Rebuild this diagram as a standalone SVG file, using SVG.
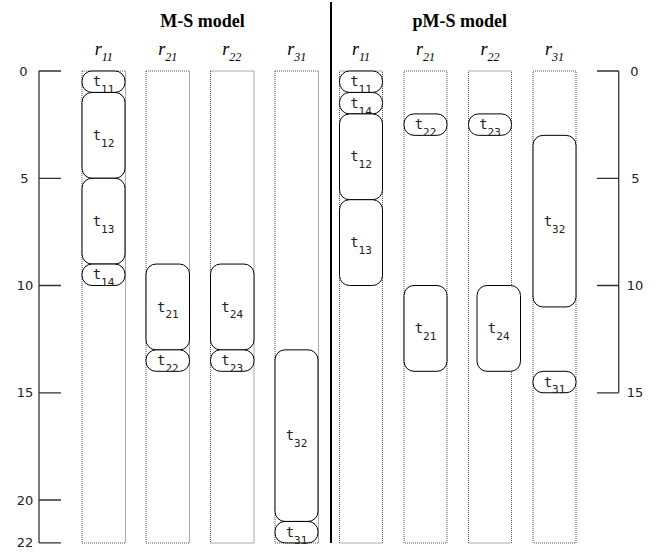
<svg xmlns="http://www.w3.org/2000/svg" width="671" height="554" viewBox="0 0 671 554">
<style>
.title{font-family:"Liberation Serif",serif;font-weight:bold;font-size:18px;text-anchor:middle;fill:#000}
.hdr{font-family:"Liberation Serif",serif;font-style:italic;font-size:18px;text-anchor:middle;fill:#000}
.hdr tspan{font-size:12px}
.col{fill:none;stroke:#555;stroke-width:1;stroke-dasharray:1,1}
.task{fill:#fff;stroke:#000;stroke-width:1}
.lbl{font-family:"DejaVu Sans Mono",monospace;font-size:14px;text-anchor:middle;fill:#222}
.lbl tspan{font-size:11px}
.ax{stroke:#333;stroke-width:1.3;fill:none}
.axl{font-family:"DejaVu Sans",sans-serif;font-size:13px;fill:#222;text-anchor:middle}
.div{stroke:#000;stroke-width:2}
</style>
<text class="title" x="202.5" y="27">M-S model</text>
<text class="title" x="459.7" y="27">pM-S model</text>
<line class="div" x1="331" y1="2" x2="331" y2="543"/>
<g id="axis-left">
<path class="ax" d="M39,71V543M39,71H61M39,178.3H61M39,285.5H61M39,392.8H61M39,500H61M39,542.9H61"/>
<text class="axl" x="23.5" y="75.5">0</text>
<text class="axl" x="24.5" y="182.8">5</text>
<text class="axl" x="25" y="290">10</text>
<text class="axl" x="25" y="397.3">15</text>
<text class="axl" x="25" y="504.5">20</text>
<text class="axl" x="25" y="547.4">22</text>
</g>
<g id="axis-right">
<path class="ax" d="M618.7,71V392.8M597,71H618.7M597,178.3H618.7M597,285.5H618.7M597,392.8H618.7"/>
<text class="axl" x="634.5" y="75.5">0</text>
<text class="axl" x="635.5" y="182.8">5</text>
<text class="axl" x="635" y="290">10</text>
<text class="axl" x="635" y="397.3">15</text>
</g>
<g id="ms-columns">
<text class="hdr" x="103.7" y="55">r<tspan dy="6">11</tspan></text>
<text class="hdr" x="167.8" y="55">r<tspan dy="6">21</tspan></text>
<text class="hdr" x="231.8" y="55">r<tspan dy="6">22</tspan></text>
<text class="hdr" x="296.7" y="55">r<tspan dy="6">31</tspan></text>
<rect class="col" x="82" y="71" width="43.5" height="472"/>
<rect class="col" x="146" y="71" width="43.5" height="472"/>
<rect class="col" x="210.5" y="71" width="43.5" height="472"/>
<rect class="col" x="275" y="71" width="43.5" height="472"/>
</g>
<g id="pms-columns">
<text class="hdr" x="361" y="55">r<tspan dy="6">11</tspan></text>
<text class="hdr" x="425.5" y="55">r<tspan dy="6">21</tspan></text>
<text class="hdr" x="490" y="55">r<tspan dy="6">22</tspan></text>
<text class="hdr" x="554.5" y="55">r<tspan dy="6">31</tspan></text>
<rect class="col" x="339.5" y="71" width="43" height="472"/>
<rect class="col" x="404" y="71" width="43" height="472"/>
<rect class="col" x="468.5" y="71" width="43" height="472"/>
<rect class="col" x="533" y="71" width="43" height="472"/>
</g>
<g id="ms-t11"><rect class="task" x="82" y="71" width="43" height="21.45" rx="10"/><text class="lbl" x="103.5" y="86.3">t<tspan dy="6.7">11</tspan></text></g>
<g id="ms-t12"><rect class="task" x="82" y="92.45" width="43" height="85.8" rx="10"/><text class="lbl" x="103.5" y="140">t<tspan dy="6.7">12</tspan></text></g>
<g id="ms-t13"><rect class="task" x="82" y="178.25" width="43" height="85.8" rx="10"/><text class="lbl" x="103.5" y="225.8">t<tspan dy="6.7">13</tspan></text></g>
<g id="ms-t14"><rect class="task" x="82" y="264.05" width="43" height="21.45" rx="10"/><text class="lbl" x="103.5" y="279.4">t<tspan dy="6.7">14</tspan></text></g>
<g id="ms-t21"><rect class="task" x="146" y="264.05" width="43.5" height="85.8" rx="10"/><text class="lbl" x="167.8" y="311.6">t<tspan dy="6.7">21</tspan></text></g>
<g id="ms-t22"><rect class="task" x="146" y="349.85" width="43.5" height="21.45" rx="10"/><text class="lbl" x="167.8" y="365.2">t<tspan dy="6.7">22</tspan></text></g>
<g id="ms-t24"><rect class="task" x="210.5" y="264.05" width="43.5" height="85.8" rx="10"/><text class="lbl" x="232.2" y="311.6">t<tspan dy="6.7">24</tspan></text></g>
<g id="ms-t23"><rect class="task" x="210.5" y="349.85" width="43.5" height="21.45" rx="10"/><text class="lbl" x="232.2" y="365.2">t<tspan dy="6.7">23</tspan></text></g>
<g id="ms-t32"><rect class="task" x="275" y="349.85" width="43" height="171.6" rx="10"/><text class="lbl" x="296.5" y="440.2">t<tspan dy="6.7">32</tspan></text></g>
<g id="ms-t31"><rect class="task" x="275" y="521.45" width="43" height="21.45" rx="10"/><text class="lbl" x="296.5" y="536.8">t<tspan dy="6.7">31</tspan></text></g>
<g id="pms-t11"><rect class="task" x="339.5" y="71" width="43" height="21.45" rx="10"/><text class="lbl" x="361" y="86.3">t<tspan dy="6.7">11</tspan></text></g>
<g id="pms-t14"><rect class="task" x="339.5" y="92.45" width="43" height="21.45" rx="10"/><text class="lbl" x="361" y="107.8">t<tspan dy="6.7">14</tspan></text></g>
<g id="pms-t12"><rect class="task" x="339.5" y="113.9" width="43" height="85.8" rx="10"/><text class="lbl" x="361" y="161.4">t<tspan dy="6.7">12</tspan></text></g>
<g id="pms-t13"><rect class="task" x="339.5" y="199.7" width="43" height="85.8" rx="10"/><text class="lbl" x="361" y="247.2">t<tspan dy="6.7">13</tspan></text></g>
<g id="pms-t22"><rect class="task" x="404" y="113.9" width="43" height="21.45" rx="10"/><text class="lbl" x="425.5" y="129.2">t<tspan dy="6.7">22</tspan></text></g>
<g id="pms-t21"><rect class="task" x="404" y="285.5" width="43" height="85.8" rx="10"/><text class="lbl" x="425.5" y="333">t<tspan dy="6.7">21</tspan></text></g>
<g id="pms-t23"><rect class="task" x="468.5" y="113.9" width="43" height="21.45" rx="10"/><text class="lbl" x="490" y="129.2">t<tspan dy="6.7">23</tspan></text></g>
<g id="pms-t24"><rect class="task" x="477" y="285.5" width="43.5" height="85.8" rx="10"/><text class="lbl" x="498.7" y="333">t<tspan dy="6.7">24</tspan></text></g>
<g id="pms-t32"><rect class="task" x="533" y="135.35" width="43" height="171.6" rx="10"/><text class="lbl" x="554.5" y="225.8">t<tspan dy="6.7">32</tspan></text></g>
<g id="pms-t31"><rect class="task" x="533" y="371.3" width="43" height="21.45" rx="10"/><text class="lbl" x="554.5" y="386.6">t<tspan dy="6.7">31</tspan></text></g>
<g id="connectors"></g>
</svg>
